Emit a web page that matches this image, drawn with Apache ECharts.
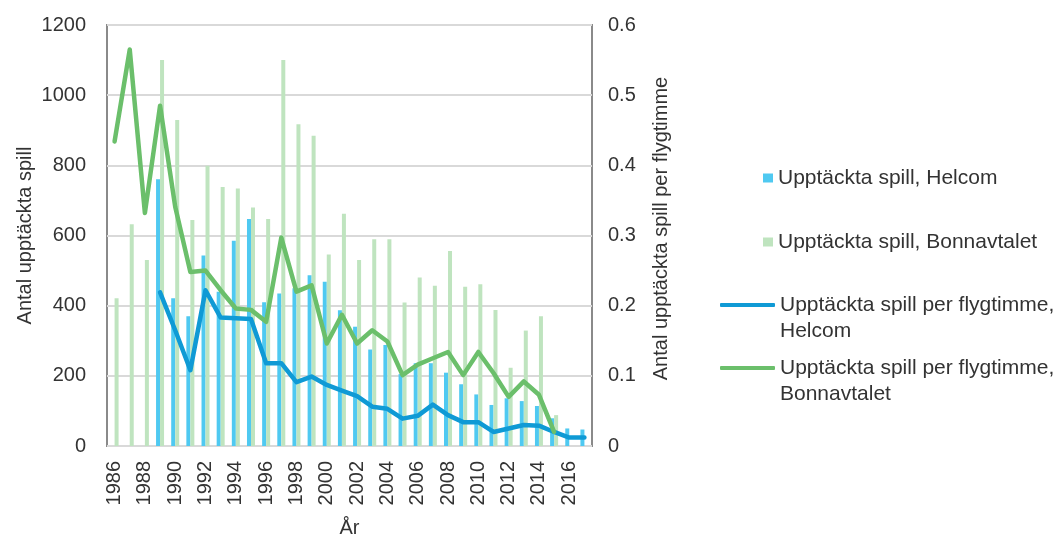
<!DOCTYPE html>
<html>
<head>
<meta charset="utf-8">
<title>Upptäckta spill</title>
<style>
    html, body { margin: 0; padding: 0; background: #fff; }
    #main { width: 1057px; height: 539px; }
</style>
</head>
<body>
<div id="main"></div>
<script src="https://cdn.jsdelivr.net/npm/echarts@6/dist/echarts.min.js"></script>
<script type="text/javascript">
    // data
    var years = ['1986','1987','1988','1989','1990','1991','1992','1993','1994','1995','1996',
        '1997','1998','1999','2000','2001','2002','2003','2004','2005','2006','2007','2008',
        '2009','2010','2011','2012','2013','2014','2015','2016','2017'];
    var helcomSpill = [null, null, null, 760, 421, 370, 543, 440, 585, 647, 410,
        435, 450, 487, 468, 387, 340, 275, 288, 205, 236, 236, 209,
        176, 147, 117, 136, 128, 114, 79, 50, 47];
    var bonnSpill = [421, 632, 530, 1100, 929, 644, 799, 738, 734, 680, 647,
        1100, 917, 884, 546, 662, 530, 589, 589, 409, 480, 457, 556,
        454, 461, 388, 223, 329, 370, 88, null, null];
    var helcomRate = [null, null, null, 0.219, 0.165, 0.108, 0.222, 0.183, 0.182, 0.181, 0.118,
        0.118, 0.091, 0.099, 0.087, 0.079, 0.071, 0.056, 0.053, 0.039, 0.043, 0.059, 0.044,
        0.034, 0.034, 0.020, 0.025, 0.030, 0.029, 0.020, 0.012, 0.012];
    var bonnRate = [0.434, 0.565, 0.332, 0.485, 0.341, 0.248, 0.250, 0.222, 0.196, 0.194, 0.177,
        0.297, 0.220, 0.229, 0.146, 0.187, 0.146, 0.165, 0.149, 0.101, 0.116, 0.125, 0.134,
        0.101, 0.134, 0.104, 0.070, 0.092, 0.073, 0.020, null, null];

    var names = ['Upptäckta spill, Helcom', 'Upptäckta spill, Bonnavtalet',
        'Upptäckta spill per flygtimme,\nHelcom', 'Upptäckta spill per flygtimme,\nBonnavtalet'];

    var font = 'Liberation Sans';
    var txt = '#333';

    var myChart = echarts.init(document.getElementById('main'));

    var legendText = { fontFamily: font, fontSize: 21, color: txt, lineHeight: 26 };
    // two-line entries: an empty first line keeps the icon level with the first text line
    var topLine = function (name) { return '\n' + name; };

    var option = {
        animation: false,
        grid: {
            left: 107, right: 465, top: 25, bottom: 93,
            outerBoundsMode: 'none',
            show: true, borderColor: '#8a8a8a', borderWidth: 2
        },
        legend: [
            { data: [names[0]], left: 758, top: 160, orient: 'vertical', icon: 'rect',
              itemWidth: 10, itemHeight: 9, textStyle: legendText },
            { data: [names[1]], left: 758, top: 224, orient: 'vertical', icon: 'rect',
              itemWidth: 10, itemHeight: 9, textStyle: legendText },
            { data: [names[2]], left: 715, top: 261, orient: 'vertical', icon: 'roundRect',
              itemWidth: 55, itemHeight: 4, textStyle: legendText, formatter: topLine },
            { data: [names[3]], left: 715, top: 324, orient: 'vertical', icon: 'roundRect',
              itemWidth: 55, itemHeight: 4, textStyle: legendText, formatter: topLine }
        ],
        xAxis: {
            type: 'category',
            data: years,
            name: 'År',
            nameLocation: 'middle',
            nameGap: 72,
            nameTextStyle: { fontFamily: font, fontSize: 20, color: txt },
            axisLine: { show: false },
            axisTick: { show: false },
            axisLabel: { interval: 1, rotate: 90, margin: 15, fontFamily: font, fontSize: 20, color: txt }
        },
        yAxis: [
            {
                type: 'value', min: 0, max: 1200, interval: 200,
                name: 'Antal upptäckta spill',
                nameLocation: 'middle', nameRotate: 90, nameGap: 72,
                nameTextStyle: { fontFamily: font, fontSize: 20, color: txt },
                axisLine: { show: false },
                axisTick: { show: false },
                axisLabel: { margin: 21, fontFamily: font, fontSize: 20, color: txt,
                    formatter: function (v) { return String(v); } },
                splitLine: { lineStyle: { color: '#d9d9d9', width: 2 } }
            },
            {
                type: 'value', min: 0, max: 0.6, interval: 0.1,
                name: 'Antal upptäckta spill per flygtimme',
                nameLocation: 'middle', nameRotate: 90, nameGap: 59,
                nameTextStyle: { fontFamily: font, fontSize: 20, color: txt, padding: [0, 0, 0, 14] },
                axisLine: { show: false },
                axisTick: { show: false },
                axisLabel: { margin: 16, fontFamily: font, fontSize: 20, color: txt },
                splitLine: { show: false }
            }
        ],
        series: [
            {
                name: names[0], type: 'bar', data: helcomSpill,
                barWidth: 4, barGap: '0%',
                itemStyle: { color: '#4fc9f1' }
            },
            {
                name: names[1], type: 'bar', data: bonnSpill,
                barWidth: 4,
                itemStyle: { color: '#bfe4bf' }
            },
            {
                name: names[2], type: 'line', yAxisIndex: 1, data: helcomRate,
                showSymbol: false, symbol: 'none',
                lineStyle: { color: '#0f9ad5', width: 4.5, cap: 'round', join: 'round' },
                itemStyle: { color: '#0f9ad5' }
            },
            {
                name: names[3], type: 'line', yAxisIndex: 1, data: bonnRate,
                showSymbol: false, symbol: 'none',
                lineStyle: { color: '#6bbf6b', width: 4.5, cap: 'round', join: 'round' },
                itemStyle: { color: '#6bbf6b' }
            }
        ]
    };

    myChart.setOption(option);
</script>
</body>
</html>
